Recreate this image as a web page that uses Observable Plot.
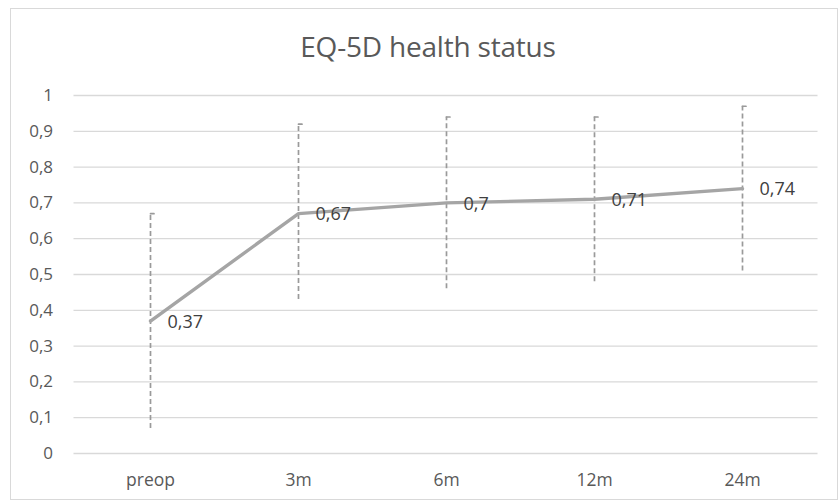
<!DOCTYPE html>
<html>
<head>
<meta charset="utf-8">
<script src="https://cdn.jsdelivr.net/npm/d3@7"></script>
<script src="https://cdn.jsdelivr.net/npm/@observablehq/plot@0.6"></script>
<style>
  html, body { margin: 0; padding: 0; background: #fff; }
  #wrap { position: relative; width: 840px; height: 503px; overflow: hidden; font-family: "Open Sans", "Noto Sans", sans-serif; }
  #frame { position: absolute; left: 10px; top: 8px; width: 828px; height: 492px; border: 1px solid #d9d9d9; box-sizing: border-box; }
  #title { position: absolute; left: 8px; width: 840px; top: 27px; text-align: center; font-size: 28px; line-height: 38px; color: #595959; font-family: "Open Sans", "Noto Sans", sans-serif; letter-spacing: -0.2px; }
  #chart { position: absolute; left: 0; top: 70px; }
</style>
</head>
<body>
<div id="wrap">
  <div id="frame"></div>
  <div id="title">EQ-5D health status</div>
  <div id="chart"></div>
</div>
<script>
const categories = ["preop", "3m", "6m", "12m", "24m"];
const means = [0.37, 0.67, 0.70, 0.71, 0.74];
const lows = [0.07, 0.43, 0.46, 0.48, 0.51];
const highs = [0.67, 0.92, 0.94, 0.94, 0.97];
const meanLabels = ["0,37", "0,67", "0,7", "0,71", "0,74"];
const yTicks = [0, 0.1, 0.2, 0.3, 0.4, 0.5, 0.6, 0.7, 0.8, 0.9, 1];
const yTickLabels = ["0", "0,1", "0,2", "0,3", "0,4", "0,5", "0,6", "0,7", "0,8", "0,9", "1"];

const data = categories.map((c, i) => ({cat: c, mean: means[i], lo: lows[i], hi: highs[i], label: meanLabels[i]}));

const capShape = {
  draw(context, l) {
    context.moveTo(0, 0);
    context.lineTo(0, -l);
  }
};

const chart = Plot.plot({
  width: 840,
  height: 430,
  marginLeft: 73.5,
  marginRight: 22.5,
  marginTop: 25,
  marginBottom: 47,
  style: {fontFamily: "'Open Sans', 'Noto Sans', sans-serif", background: "transparent", overflow: "visible"},
  x: {type: "point", domain: categories, padding: 0.5, label: null},
  y: {domain: [0, 1], label: null},
  marks: [
    Plot.ruleY(yTicks, {stroke: "#d9d9d9", strokeWidth: 1.3}),
    Plot.axisY({ticks: yTicks, tickSize: 0, tickPadding: 21, tickFormat: (d) => yTickLabels[yTicks.indexOf(d)], fontSize: 17, fill: "#595959", label: null}),
    Plot.axisX({tickSize: 0, tickPadding: 20, fontSize: 17.5, fill: "#595959", label: null}),
    Plot.ruleX(data, {x: "cat", y1: "lo", y2: "hi", stroke: "#9a9a9a", strokeWidth: 1.7, strokeDasharray: "5,3"}),
    Plot.vector(data, {x: "cat", y: "hi", length: 3.5, rotate: 90, anchor: "start", shape: capShape, stroke: "#9a9a9a", strokeWidth: 1.7}),
    Plot.line(data, {x: "cat", y: "mean", stroke: "#a5a5a5", strokeWidth: 3.4}),
    Plot.text(data, {x: "cat", y: "mean", text: "label", dx: 17, dy: 1, textAnchor: "start", fontSize: 18, fill: "#404040"})
  ]
});
document.getElementById("chart").appendChild(chart);
</script>
</body>
</html>
